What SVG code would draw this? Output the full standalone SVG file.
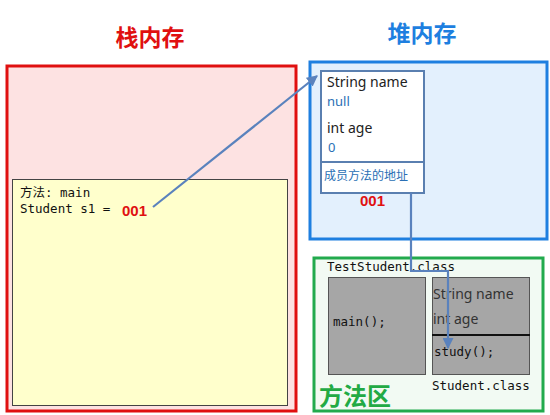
<svg xmlns="http://www.w3.org/2000/svg" width="550" height="415" viewBox="0 0 550 415">
<style>
.title{font-family:"Noto Sans CJK SC","Noto Sans",sans-serif;font-weight:bold;font-size:23px}
.mono{font-family:"DejaVu Sans Mono","Liberation Mono","Noto Sans CJK SC",monospace;font-size:12.5px;fill:#111}
.sans{font-family:"Noto Sans","Noto Sans CJK SC",sans-serif;font-size:14px;fill:#222}
.val{font-family:"Noto Sans","Noto Sans CJK SC",sans-serif;font-size:13px;fill:#2a6fb5}
.addr{font-family:"Liberation Sans","Noto Sans",sans-serif;font-weight:bold;font-size:15px;fill:#e01010}
.conn{fill:none;stroke:#5a82bd;stroke-width:2.2}
</style>
<defs>
<marker id="arr" viewBox="0 0 10 10" refX="9" refY="5" markerWidth="5" markerHeight="5" orient="auto-start-reverse">
<path d="M0,0 L10,5 L0,10 z" fill="#5a82bd"/>
</marker>
</defs>
<rect width="550" height="415" fill="#ffffff"/>

<g id="stack">
<text class="title" x="150" y="46" text-anchor="middle" fill="#e01010">栈内存</text>
<rect x="7" y="66" width="289" height="345" fill="#fde2e2" stroke="#e01010" stroke-width="3"/>
</g>
<g id="main-frame">
<rect x="12.5" y="179.5" width="275" height="226" fill="#ffffcc" stroke="#444" stroke-width="1"/>
<text class="mono" x="20" y="197">方法: main</text>
<text class="mono" x="20" y="213">Student s1 =</text>
<text class="addr" x="122" y="216">001</text>
</g>

<g id="heap">
<text class="title" x="422" y="42" text-anchor="middle" fill="#1e7fe0">堆内存</text>
<rect x="310" y="62" width="237" height="177" fill="#e3f0fd" stroke="#1e7fe0" stroke-width="3"/>
</g>
<g id="object">
<rect x="321" y="71" width="103" height="122" fill="#ffffff" stroke="#5a7fb0" stroke-width="2"/>
<line x1="321" y1="162" x2="424" y2="162" stroke="#5a7fb0" stroke-width="2"/>
<text class="sans" x="327" y="87">String name</text>
<text class="val" x="327" y="106">null</text>
<text class="sans" x="327" y="133">int age</text>
<text class="val" x="328" y="152">0</text>
<text class="val" x="324" y="180" style="font-size:12px">成员方法的地址</text>
<text class="addr" x="360" y="206">001</text>
</g>

<g id="method-area">
<rect x="314" y="258" width="229" height="153" fill="#f2faf3" stroke="#22aa4d" stroke-width="3"/>
<text class="mono" x="327" y="271">TestStudent.class</text>
<text class="title" x="319" y="405" fill="#22aa44" style="font-size:24px">方法区</text>
</g>
<g id="test-class">
<rect x="328.5" y="277.5" width="97" height="97" fill="#a6a6a6" stroke="#555" stroke-width="1"/>
<text class="mono" x="333" y="326">main();</text>
</g>
<g id="student-class">
<rect x="432.5" y="277.5" width="97" height="97" fill="#a6a6a6" stroke="#555" stroke-width="1"/>
<line x1="432" y1="335" x2="530" y2="335" stroke="#111" stroke-width="2"/>
<text class="sans" x="433" y="299" style="fill:#333">String name</text>
<text class="sans" x="433" y="324" style="fill:#333">int age</text>
<text class="mono" x="434" y="356">study();</text>
<text class="mono" x="432" y="390">Student.class</text>
</g>

<g id="connectors">
<path class="conn" d="M153,207 L317,76" marker-end="url(#arr)"/>
<path class="conn" d="M411,193 L411,271 L448,271 L448,348" marker-end="url(#arr)"/>
</g>
</svg>
